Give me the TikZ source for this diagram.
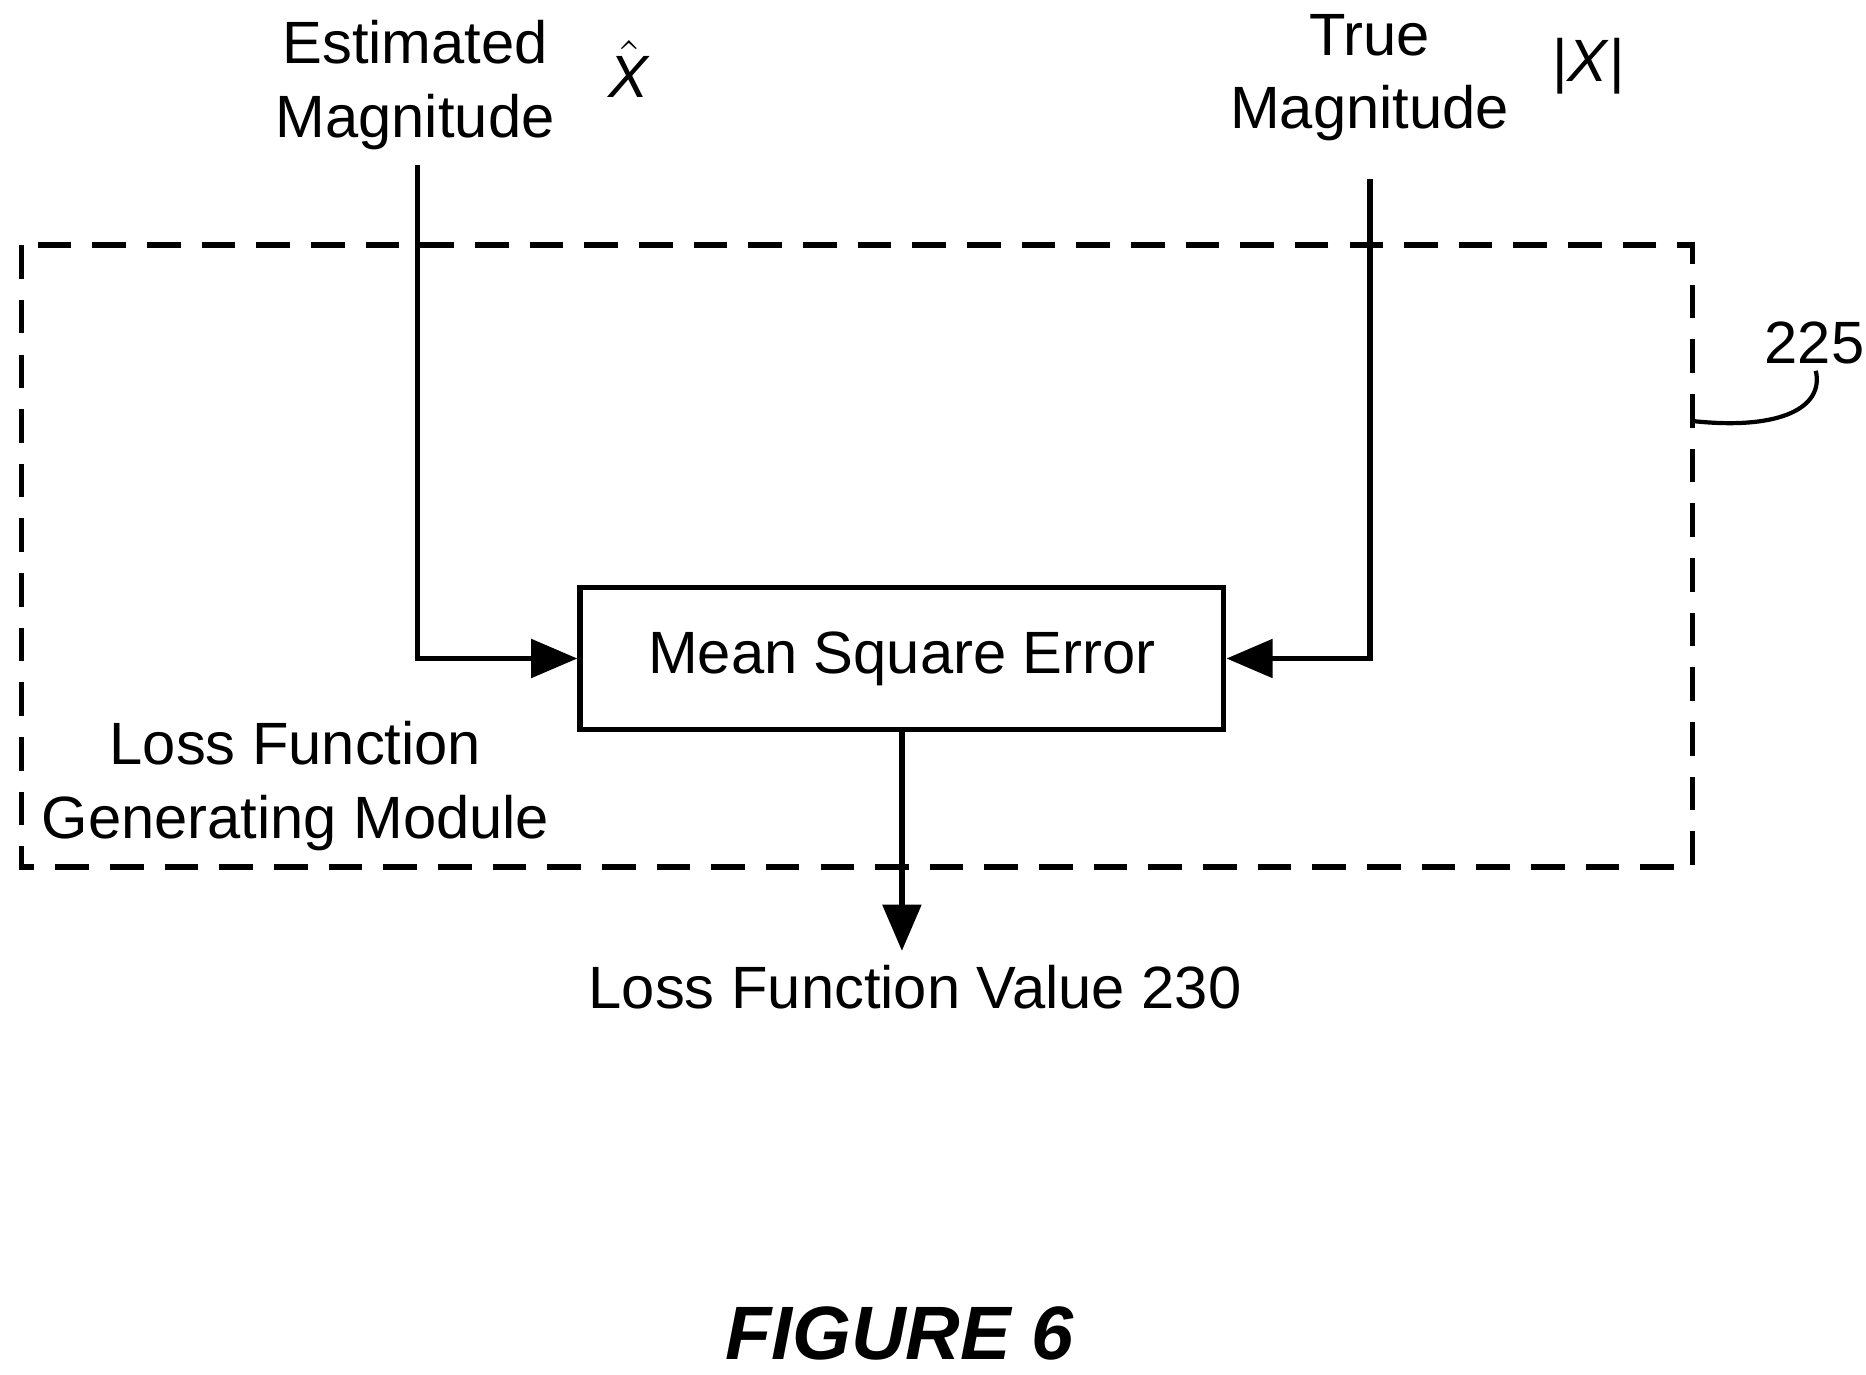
\documentclass[tikz,border=0pt]{standalone}
\usepackage{fontspec}
\setmainfont{Liberation Sans}
\usetikzlibrary{arrows.meta,positioning}
\begin{document}
\begin{tikzpicture}[
    lbl/.style={font=\fontsize{14.2}{17.5}\selectfont, align=center},
    conn/.style={line width=1.4pt, -{Triangle[length=11pt,width=9pt]}},
  ]
    \useasboundingbox (0,0) rectangle (15.6,-11.49);
    % module boundary
    \draw[line width=1.3pt, dash pattern=on 8pt off 5pt] (0.18,-2.05) rectangle (14.15,-7.25);
    \node[lbl] (module) at (2.47,-6.57) {Loss Function\\Generating Module};
    \node[lbl] (ref225) at (15.17,-2.87) {225};
    \draw[line width=1pt] (14.15,-3.52) .. controls (14.9,-3.6) and (15.25,-3.4) .. (15.18,-3.1);
    % mean square error block
    \node[lbl, draw, line width=1.3pt, minimum width=5.38cm, minimum height=1.19cm] (mse) at (7.54,-5.505) {Mean Square Error};
    % inputs
    \node[lbl] (est) at (3.47,-0.71) {Estimated\\Magnitude};
    \node[lbl, inner sep=1pt] (xhat) at (5.26,-0.58) {$\hat{\mbox{\textit{X}}}$};
    \node[lbl] (true) at (11.45,-0.65) {True\\Magnitude};
    \node[lbl] (xabs) at (13.28,-0.55) {|\textit{X}|};
    \coordinate (estend) at (3.49,-1.38);
    \coordinate (trueend) at (11.45,-1.5);
    \draw[conn] (estend) |- (mse.west);
    \draw[conn] (trueend) |- (mse.east);
    % output
    \node[lbl] (out) at (7.65,-8.25) {Loss Function Value 230};
    \draw[conn] (mse.south) -- (7.54,-7.95);
    \node[font=\fontsize{18}{22}\selectfont\bfseries\itshape] (fig) at (7.52,-11.15) {FIGURE 6};
\end{tikzpicture}
\end{document}
